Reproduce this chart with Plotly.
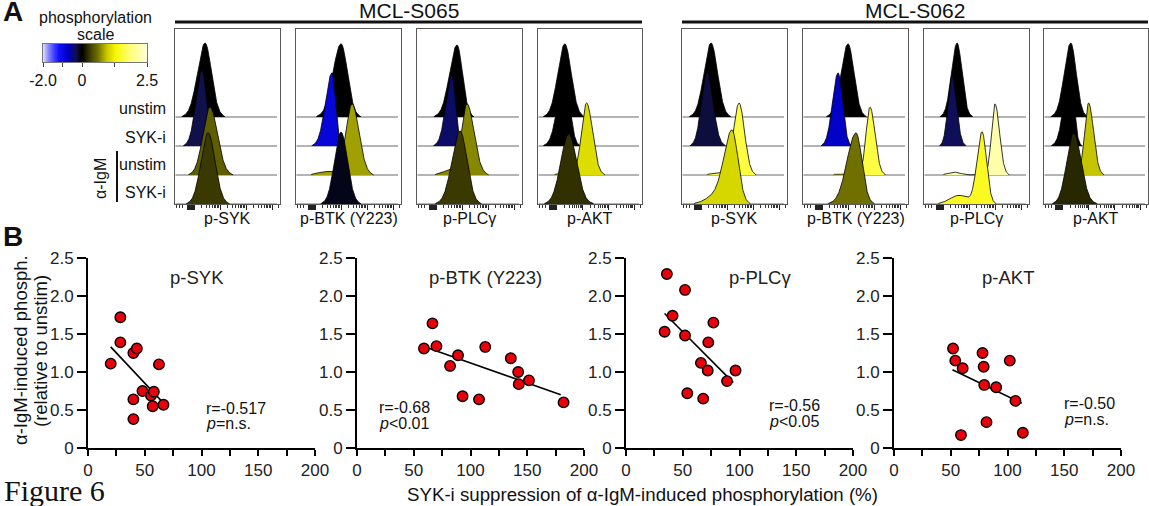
import numpy as np
import plotly.graph_objects as go
import plotly.colors as pc

W, H = 1149, 506
FONT = "Liberation Sans, Arial, sans-serif"
SERIF = "Liberation Serif, Times New Roman, serif"
INK = "#111111"

# ---------------- Panel A data ----------------
CELL_LINES = ["MCL-S065", "MCL-S062"]
MARKERS = ["p-SYK", "p-BTK (Y223)", "p-PLCγ", "p-AKT"]
ROW_LABELS = ["unstim", "SYK-i", "unstim", "SYK-i"]
STIM_LABEL = "α-IgM"

# one entry per histogram box (S065: SYK, BTK, PLCg, AKT ; S062: SYK, BTK, PLCg, AKT)
# rows: unstim, SYK-i, a-IgM unstim, a-IgM SYK-i  (channel units 0-105)
HIST_MODE = [
    [30, 27, 35, 33],
    [45, 36, 56, 45],
    [40, 35, 50, 43],
    [27, 27, 49, 31],
    [29, 25, 57, 50],
    [45, 35, 67, 53],
    [33, 28, 71, 58],
    [27, 26, 45, 30],
]
HIST_SD_LEFT = [
    [7.5, 6.0, 7.0, 7.0],
    [8.0, 6.5, 6.0, 6.5],
    [7.5, 6.0, 5.5, 8.0],
    [7.0, 7.0, 5.0, 8.0],
    [7.0, 5.5, 5.5, 8.0],
    [7.0, 5.5, 4.0, 9.0],
    [5.5, 4.0, 3.5, 5.0],
    [6.5, 6.0, 4.0, 7.0],
]
HIST_SD_RIGHT = [
    [6.5, 4.5, 7.5, 7.0],
    [6.5, 3.5, 7.0, 6.5],
    [5.5, 3.5, 7.0, 7.0],
    [6.5, 5.0, 6.0, 8.0],
    [6.5, 6.0, 5.5, 6.0],
    [6.0, 4.5, 5.0, 6.0],
    [5.0, 4.5, 4.5, 4.5],
    [5.5, 4.0, 5.0, 7.5],
]
HIST_PEAK = [
    [2.55, 2.62, 2.34, 2.46],
    [2.52, 2.52, 2.45, 2.48],
    [2.48, 2.45, 2.45, 2.52],
    [2.52, 2.45, 2.48, 2.41],
    [2.55, 2.55, 2.48, 2.52],
    [2.52, 2.52, 2.34, 2.45],
    [2.55, 2.41, 2.45, 2.48],
    [2.55, 2.45, 2.48, 2.45],
]
# minor sub-populations (low shoulders)
TAIL_MODE = [
    [0, 0, 0, 0],
    [0, 0, 30, 0],
    [0, 0, 32, 0],
    [0, 0, 30, 0],
    [0, 0, 35, 32],
    [0, 0, 40, 0],
    [0, 0, 30, 35],
    [0, 0, 0, 0],
]
TAIL_SD = [
    [1, 1, 1, 1],
    [1, 1, 8, 1],
    [1, 1, 7, 1],
    [1, 1, 8, 1],
    [1, 1, 6, 9],
    [1, 1, 8, 1],
    [1, 1, 6, 9],
    [1, 1, 1, 1],
]
TAIL_PEAK = [
    [0, 0, 0, 0],
    [0, 0, 0.12, 0],
    [0, 0, 0.15, 0],
    [0, 0, 0.08, 0],
    [0, 0, 0.08, 0.25],
    [0, 0, 0.04, 0],
    [0, 0, 0.10, 0.30],
    [0, 0, 0, 0],
]
# phosphorylation scale value of each histogram (colour)
HIST_PHOS = [
    [0, -0.30, 0.50, 0.30],
    [0, -0.90, 0.80, -0.10],
    [0, -0.40, 0.70, 0.30],
    [0, 0.00, 1.10, 0.25],
    [0, -0.25, 1.60, 1.05],
    [0, -0.75, 1.60, 0.60],
    [0, -0.35, 2.20, 1.45],
    [0, 0.00, 0.95, 0.20],
]

SCALE_MIN, SCALE_MAX = -2.0, 2.5
SCALE_TICKS = [-2.0, -1.0, 0.0, 1.25, 2.5]
SCALE_TICKTEXT = ["-2.0", "", "0", "", "2.5"]
SCALE_STOP_VALUES = [-2.0, -1.7, -1.2, -0.7, -0.3, 0.0, 0.3, 0.6, 1.0, 1.3, 1.8, 2.5]
SCALE_STOP_COLORS = ["#dcdcff", "#8080ff", "#1010ff", "#0000c0", "#10104a", "#000000",
                     "#3a3a00", "#707000", "#d0d000", "#f8f800", "#ffff70", "#ffffd8"]

# ---------------- Panel B data ----------------
SCATTER_TITLES = ["p-SYK", "p-BTK (Y223)", "p-PLCγ", "p-AKT"]
SYK_X = [20, 28.5, 28.5, 40, 43, 62.5, 40, 48, 55.5, 58, 57, 66.5, 40]
SYK_Y = [1.11, 1.72, 1.39, 1.25, 1.31, 1.10, 0.64, 0.75, 0.69, 0.74, 0.55, 0.57, 0.38]
BTK_X = [59, 66.5, 70, 82, 89, 93, 107.5, 113, 135.5, 142, 142.5, 151.5, 182]
BTK_Y = [1.31, 1.64, 1.34, 1.08, 1.22, 0.68, 0.64, 1.33, 1.18, 1.00, 0.84, 0.89, 0.60]
PLCG_X = [36, 52, 41, 34, 52, 77, 72.5, 66, 72, 96.5, 89, 54, 68]
PLCG_Y = [2.29, 2.08, 1.74, 1.53, 1.48, 1.65, 1.39, 1.12, 1.02, 1.02, 0.88, 0.72, 0.65]
AKT_X = [52, 54, 60.5, 78, 79, 102, 79.5, 90, 107, 81.5, 59, 113.5]
AKT_Y = [1.31, 1.15, 1.05, 1.25, 1.07, 1.15, 0.83, 0.80, 0.62, 0.34, 0.17, 0.20]
FIT_X = [[20, 66.5], [60, 179.5], [34, 94.5], [51.5, 112.5]]
FIT_Y = [[1.33, 0.59], [1.33, 0.70], [1.77, 0.86], [1.03, 0.59]]
R_TEXT = ["r=-0.517", "r=-0.68", "r=-0.56", "r=-0.50"]
P_TEXT = ["<i>p</i>=n.s.", "<i>p</i>&lt;0.01", "<i>p</i>&lt;0.05", "<i>p</i>=n.s."]
X_TICKS = [0, 25, 50, 75, 100, 125, 150, 175, 200]
X_TICKTEXT = ["0", "", "50", "", "100", "", "150", "", "200"]
Y_TICKS = [0, 0.5, 1.0, 1.5, 2.0, 2.5]
Y_TICKTEXT = ["0", "0.5", "1.0", "1.5", "2.0", "2.5"]
Y_TITLE = ["α-IgM-induced phosph.", "(relative to unstim)"]
X_TITLE = "SYK-i suppression of α-IgM-induced phosphorylation (%)"

SCATTER_X = [SYK_X, BTK_X, PLCG_X, AKT_X]
SCATTER_Y = [SYK_Y, BTK_Y, PLCG_Y, AKT_Y]

# ---------------- layout geometry (pixels) ----------------
BOX_PX = [(175, 280), (296, 401), (417, 522), (538, 642),
          (682, 787), (803, 908), (924, 1029), (1044, 1148)]
BOX_TOP, BOX_BOT = 29, 204
SC_PX = [(88, 315), (357, 584), (626, 853), (894, 1121)]
SC_TOP, SC_BOT = 258, 448
CB_PX = (43, 147, 44, 62)
TITLE_POS = [(96, 2.25), (113, 2.25), (118, 2.25), (100, 2.25)]
RP_PX = [(204, 408, 423), (377, 407, 423), (767, 405, 421), (1062, 403, 419)]


def xd(a, b):
    return [a / W, b / W]


def yd(top, bot):
    return [1 - bot / H, 1 - top / H]


def sfx(i):
    return "" if i == 1 else str(i)


def ann(text, px, py, size, xanchor="center", family=FONT, **kw):
    return dict(text=text, x=px / W, y=1 - py / H, xref="paper", yref="paper",
                xanchor=xanchor, yanchor="middle", showarrow=False,
                font=dict(size=size, family=family, color=INK), **kw)


COLORSCALE = [[(v - SCALE_MIN) / (SCALE_MAX - SCALE_MIN), c]
              for v, c in zip(SCALE_STOP_VALUES, SCALE_STOP_COLORS)]
P_ZERO = 0.375


def scale_pos(v):
    if v < 0:
        return P_ZERO * (v - SCALE_MIN) / (0 - SCALE_MIN)
    return P_ZERO + (1 - P_ZERO) * v / SCALE_MAX


def scale_val(p):
    if p < P_ZERO:
        return SCALE_MIN + (0 - SCALE_MIN) * p / P_ZERO
    return SCALE_MAX * (p - P_ZERO) / (1 - P_ZERO)


def phos_color(v):
    return pc.sample_colorscale(COLORSCALE, [(v - SCALE_MIN) / (SCALE_MAX - SCALE_MIN)])[0]


fig = go.Figure()
layout = {}

# ---- histogram axis ticks (biexponential-like channel scale)
zero_block = list(np.arange(12.0, 19.01, 0.45))
decades = [19, 45, 71, 97]
major_ticks = zero_block + decades
minor_ticks = [1.5, 4.5, 7.5]
for d0, d1 in zip(decades[:-1], decades[1:]):
    for k in range(2, 10):
        minor_ticks.append(d0 + (d1 - d0) * np.log10(k))
minor_ticks.append(103)

xs = np.linspace(0, 103, 600)
for b in range(8):
    i = b + 1
    xa, ya = "x" + sfx(i), "y" + sfx(i)
    for r in range(4):
        base = 3 - r
        fig.add_trace(go.Scatter(x=[0.5, 102], y=[base, base], mode="lines",
                                 line=dict(color="#6a6a6a", width=1.1),
                                 xaxis=xa, yaxis=ya, hoverinfo="skip", showlegend=False))
        m = HIST_MODE[b][r]
        sd = np.where(xs < m, HIST_SD_LEFT[b][r], HIST_SD_RIGHT[b][r])
        dens = HIST_PEAK[b][r] * np.exp(-0.5 * ((xs - m) / sd) ** 2)
        if TAIL_PEAK[b][r] > 0:
            dens = dens + TAIL_PEAK[b][r] * np.exp(-0.5 * ((xs - TAIL_MODE[b][r]) / TAIL_SD[b][r]) ** 2)
        idx = np.where(dens > 0.02)[0]
        seg_x = xs[idx[0]:idx[-1] + 1]
        seg_y = base + dens[idx[0]:idx[-1] + 1]
        px_ = np.concatenate([[seg_x[0]], seg_x, [seg_x[-1]]])
        py_ = np.concatenate([[base], seg_y, [base]])
        fig.add_trace(go.Scatter(x=px_, y=py_, mode="lines", fill="toself",
                                 fillcolor=phos_color(HIST_PHOS[b][r]),
                                 line=dict(color="#000000", width=0.8),
                                 xaxis=xa, yaxis=ya, hoverinfo="skip", showlegend=False))
    layout["xaxis" + sfx(i)] = dict(
        domain=xd(*BOX_PX[b]), range=[0, 105], anchor="y" + sfx(i), automargin=False,
        showgrid=False, zeroline=False, showline=True, mirror=True,
        linecolor="#5a5a5a", linewidth=1.3, ticks="outside", tickmode="array",
        tickvals=major_ticks, ticklen=5, tickwidth=1, tickcolor="#222222",
        showticklabels=False,
        minor=dict(tickmode="array", tickvals=minor_ticks, ticks="outside", ticklen=3,
                   tickwidth=1, tickcolor="#333333", showgrid=False),
        fixedrange=True)
    layout["yaxis" + sfx(i)] = dict(
        domain=yd(BOX_TOP, BOX_BOT), range=[0, 6.03], anchor="x" + sfx(i), automargin=False,
        showgrid=False, zeroline=False, showline=True, mirror=True,
        linecolor="#5a5a5a", linewidth=1.3, showticklabels=False, ticks="",
        fixedrange=True)

# ---- scatter panels
for j in range(4):
    i = 9 + j
    xa, ya = "x" + sfx(i), "y" + sfx(i)
    fig.add_trace(go.Scatter(x=FIT_X[j], y=FIT_Y[j], mode="lines",
                             line=dict(color="#000000", width=1.6),
                             xaxis=xa, yaxis=ya, hoverinfo="skip", showlegend=False))
    fig.add_trace(go.Scatter(x=SCATTER_X[j], y=SCATTER_Y[j], mode="markers",
                             marker=dict(size=10.5, color="#e8000b",
                                         line=dict(color="#000000", width=1.4)),
                             xaxis=xa, yaxis=ya, showlegend=False, cliponaxis=False))
    layout["xaxis" + sfx(i)] = dict(
        domain=xd(*SC_PX[j]), range=[0, 200], anchor="y" + sfx(i), automargin=False,
        showgrid=False, zeroline=False, showline=True, linecolor="#000000", linewidth=2,
        ticks="outside", tickmode="array", tickvals=X_TICKS, ticktext=X_TICKTEXT,
        ticklen=6, tickwidth=2, tickcolor="#000000",
        tickfont=dict(size=17, family=FONT, color="#222222"), fixedrange=True)
    layout["yaxis" + sfx(i)] = dict(
        domain=yd(SC_TOP, SC_BOT), range=[0, 2.5], anchor="x" + sfx(i), automargin=False,
        showgrid=False, zeroline=False, showline=True, linecolor="#000000", linewidth=2,
        ticks="outside", tickmode="array", tickvals=Y_TICKS, ticktext=Y_TICKTEXT,
        ticklen=9, tickwidth=2, tickcolor="#000000",
        tickfont=dict(size=17, family=FONT, color="#222222"), fixedrange=True)

# ---- colour scale bar
ps = np.linspace(0.0025, 0.9975, 200)
fig.add_trace(go.Heatmap(x=ps, y=[0], z=[[scale_val(p) for p in ps]],
                         colorscale=COLORSCALE, zmin=SCALE_MIN, zmax=SCALE_MAX,
                         showscale=False, xaxis="x13", yaxis="y13", hoverinfo="skip"))
layout["xaxis13"] = dict(
    domain=xd(CB_PX[0], CB_PX[1]), range=[0, 1], anchor="y13", automargin=False,
    showgrid=False, zeroline=False, showline=True, mirror=True,
    linecolor="#777777", linewidth=1, ticks="outside", tickmode="array",
    tickvals=[scale_pos(v) for v in SCALE_TICKS], ticktext=SCALE_TICKTEXT,
    ticklen=4, tickwidth=1, tickcolor="#444444",
    tickfont=dict(size=16, family=FONT, color=INK), fixedrange=True)
layout["yaxis13"] = dict(
    domain=yd(CB_PX[2], CB_PX[3]), range=[-0.5, 0.5], anchor="x13", automargin=False,
    showgrid=False, zeroline=False, showline=True, mirror=True,
    linecolor="#777777", linewidth=1, showticklabels=False, ticks="", fixedrange=True)

# ---- annotations
anns = []
anns.append(ann("<b>A</b>", 1, 12, 28, xanchor="left"))
anns.append(ann("<b>B</b>", 1, 237, 28, xanchor="left"))
anns.append(ann("phosphorylation", 95, 17, 16))
anns.append(ann("scale", 95, 34, 16))
hdr_centers = [(BOX_PX[0][0] + BOX_PX[3][1]) / 2, (BOX_PX[4][0] + BOX_PX[7][1]) / 2]
for c, name in enumerate(CELL_LINES):
    anns.append(ann(name, hdr_centers[c], 11, 21))
for b in range(8):
    cx = (BOX_PX[b][0] + BOX_PX[b][1]) / 2
    anns.append(ann(MARKERS[b % 4], cx, 219, 16))
row_y = [108, 137, 164, 192]
for r in range(4):
    anns.append(ann(ROW_LABELS[r], 168, row_y[r], 16, xanchor="right"))
anns.append(ann(STIM_LABEL, 101, 179, 16, textangle=-90))

for j in range(4):
    anns.append(dict(text=SCATTER_TITLES[j], x=TITLE_POS[j][0], y=TITLE_POS[j][1],
                     xref="x" + sfx(9 + j), yref="y" + sfx(9 + j), showarrow=False,
                     xanchor="center", yanchor="middle",
                     font=dict(size=18.5, family=FONT, color="#222222")))
    lx, ry, py = RP_PX[j]
    anns.append(ann(R_TEXT[j], lx, ry, 16, xanchor="left"))
    anns.append(ann(P_TEXT[j], lx, py, 16, xanchor="left"))

anns.append(ann(Y_TITLE[0], 20, 350, 18.5, textangle=-90))
anns.append(ann(Y_TITLE[1], 40, 351, 18.5, textangle=-90))
anns.append(ann(X_TITLE, 642, 494, 18.7))
anns.append(ann("Figure 6", 2, 490, 30, xanchor="left", family=SERIF))

shapes = []
for c in range(2):
    a = BOX_PX[4 * c][0]
    bb = BOX_PX[4 * c + 3][1]
    shapes.append(dict(type="line", xref="paper", yref="paper",
                       x0=a / W, x1=bb / W, y0=1 - 22 / H, y1=1 - 22 / H,
                       line=dict(color="#111111", width=3)))
shapes.append(dict(type="line", xref="paper", yref="paper",
                   x0=117 / W, x1=117 / W, y0=1 - 151 / H, y1=1 - 202 / H,
                   line=dict(color="#111111", width=2)))

fig.update_layout(
    width=W, height=H, autosize=False,
    margin=dict(l=0, r=0, t=0, b=0, autoexpand=False),
    paper_bgcolor="white", plot_bgcolor="rgba(0,0,0,0)",
    showlegend=False, annotations=anns, shapes=shapes,
    font=dict(family=FONT, color=INK),
    **layout)

fig.write_html("out.html", config={"displayModeBar": False},
               post_script="document.body.style.margin='0';document.body.style.overflow='hidden';")
